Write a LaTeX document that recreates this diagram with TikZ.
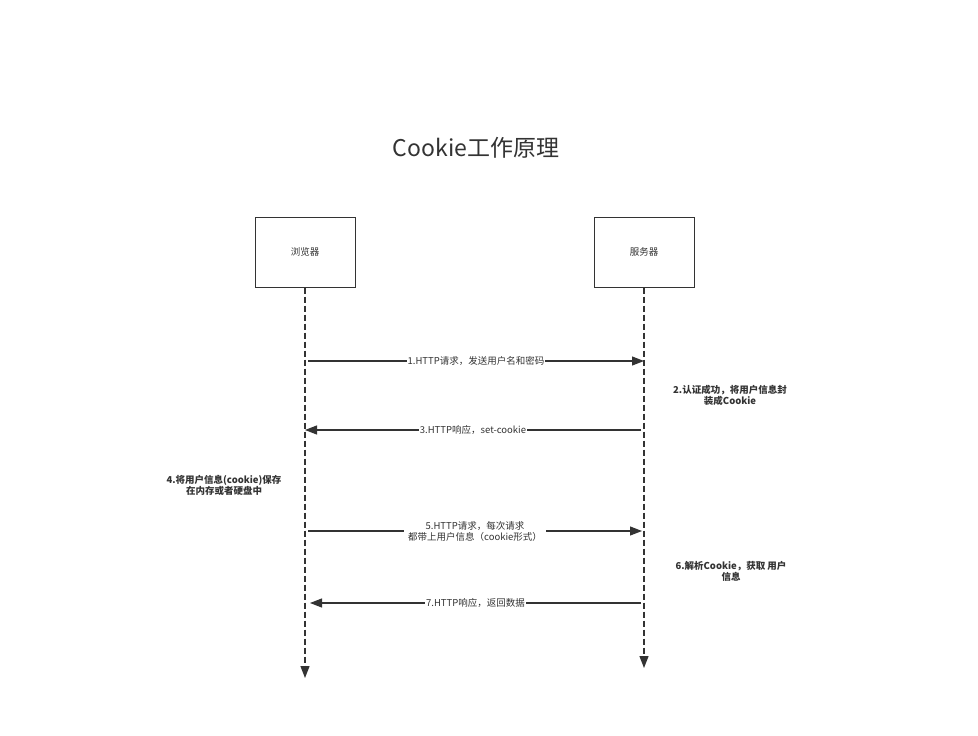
\documentclass[tikz,border=0pt]{standalone}
\usepackage{fontspec}
\setmainfont{Noto Sans CJK SC}
\usetikzlibrary{arrows.meta}
\definecolor{ink}{HTML}{333333}
\begin{document}
\begin{tikzpicture}[x=1pt,y=-1pt,
  box/.style={draw=ink,line width=1pt,minimum width=100pt,minimum height=70pt,font=\fontsize{9.5}{11}\selectfont,text=ink},
  life/.style={draw=ink,line width=1.3pt,dashed,dash pattern=on 6pt off 3pt,-{Triangle[length=12pt,width=9pt]}},
  msg/.style={draw=ink,line width=1.1pt,-{Triangle[length=12pt,width=9pt]}},
  lbl/.style={fill=white,text=ink,inner sep=1pt,font=\fontsize{9.5}{11}\selectfont,align=center},
  note/.style={text=ink,font=\bfseries\fontsize{9.5}{11}\selectfont,align=center}]
\useasboundingbox[fill=white] (0,0) rectangle (978,736);
\node[text=ink,font=\fontsize{23}{28}\selectfont] (title) at (476,148) {Cookie工作原理};
\node[box] (b) at (305,252) {浏览器};
\node[box] (s) at (644,252) {服务器};
\coordinate (bend) at (305,678);
\coordinate (send) at (644,668);
\draw[life] (b.south) -- (bend);
\draw[life] (s.south) -- (send);
\coordinate (m1a) at (308,361); \coordinate (m1b) at (644,361);
\draw[msg] (m1a) -- node[lbl] (l1) {1.HTTP请求，发送用户名和密码} (m1b);
\node[note] (n2) at (730,395) {2.认证成功，将用户信息封\\装成Cookie};
\coordinate (m3a) at (641,430); \coordinate (m3b) at (305,430);
\draw[msg] (m3a) -- node[lbl] (l3) {3.HTTP响应，set-cookie} (m3b);
\node[note] (n4) at (224,485) {4.将用户信息(cookie)保存\\在内存或者硬盘中};
\coordinate (m5a) at (308,531); \coordinate (m5b) at (642,531);
\draw[msg] (m5a) -- node[lbl,inner xsep=4pt] (l5) {5.HTTP请求，每次请求\\都带上用户信息（cookie形式）} (m5b);
\node[note] (n6) at (731,571) {6.解析Cookie，获取 用户\\信息};
\coordinate (m7a) at (641,603); \coordinate (m7b) at (310,603);
\draw[msg] (m7a) -- node[lbl,pos=0.5] (l7) {7.HTTP响应，返回数据} (m7b);
\end{tikzpicture}
\end{document}
